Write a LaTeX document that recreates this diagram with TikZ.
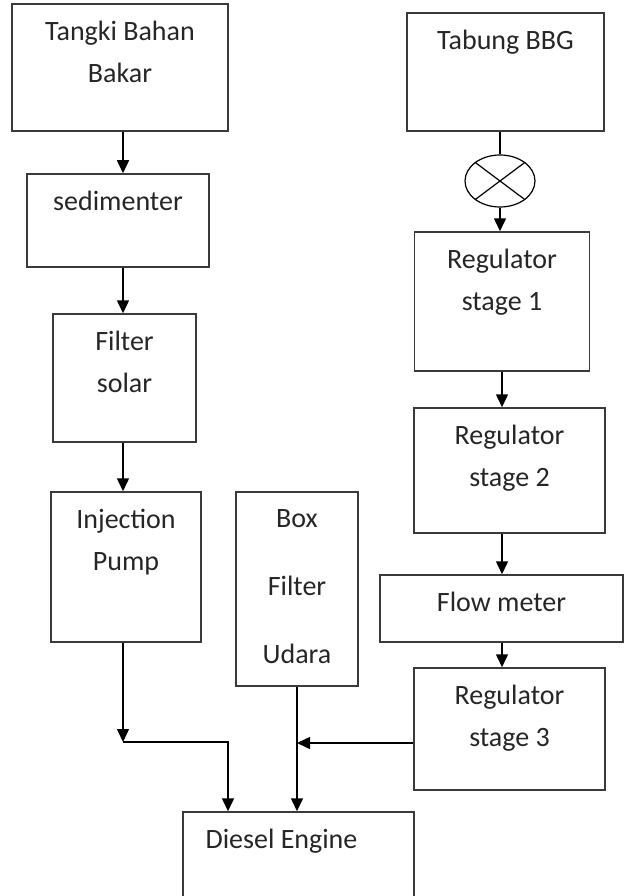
\documentclass[tikz,border=0pt]{standalone}
\usepackage{fontspec}
\setmainfont{Carlito}
\usetikzlibrary{arrows.meta,shapes.geometric}
\definecolor{boxgray}{HTML}{3A3A3A}
\definecolor{txtgray}{HTML}{262626}

\begin{document}
\begin{tikzpicture}[x=1pt, y=-1pt,
        box/.style={draw=boxgray, line width=1.5pt, inner sep=0pt},
        lbl/.style={anchor=north, inner sep=0pt, yshift=-18pt, align=center,
                    text=txtgray, font=\fontsize{28}{42}\selectfont},
        arrow/.style={-{Triangle[length=13pt,width=12pt]}, draw=black, line width=1.5pt}
      ]
        \useasboundingbox (0,0) rectangle (630,896);
        \coordinate (colL) at (123,0);
        \coordinate (colR) at (502,0);
        \coordinate (inL)  at (228,0);

        % solar line
        \node[box, minimum width=216pt, minimum height=127pt,
              label={[lbl]above:{Tangki Bahan\\Bakar}}] (tangki) at (120,67.5) {};
        \node[box, minimum width=182pt, minimum height=93pt,
              label={[lbl]above:{sedimenter}}] (sedim) at (118,220.5) {};
        \node[box, minimum width=143pt, minimum height=128pt,
              label={[lbl]above:{Filter\\solar}}] (filter) at (124.5,378) {};
        \node[box, minimum width=150pt, minimum height=150pt,
              label={[lbl]above:{Injection\\Pump}}] (pump) at (126,567) {};
        \node[box, minimum width=122pt, minimum height=194pt,
              label={[lbl]above:{Box\\[26pt]Filter\\[26pt]Udara}}] (boxf) at (297,589) {};

        % gas line
        \node[box, minimum width=197pt, minimum height=118pt,
              label={[lbl]above:{Tabung BBG}}] (tabung) at (505.5,72) {};
        \node[draw=black, line width=1.2pt, ellipse, minimum width=70pt, minimum height=52pt,
              inner sep=0pt] (valve) at (500,181) {};
        \node[box, minimum width=175pt, minimum height=139pt,
              label={[lbl]above:{Regulator\\stage 1}}] (reg1) at (502,301.5) {};
        \node[box, minimum width=191pt, minimum height=125pt,
              label={[lbl]above:{Regulator\\stage 2}}] (reg2) at (509.5,470.5) {};
        \node[box, minimum width=243pt, minimum height=67pt,
              label={[lbl]above:{Flow meter}}] (flow) at (501.5,608.5) {};
        \node[box, minimum width=191pt, minimum height=122pt,
              label={[lbl]above:{Regulator\\stage 3}}] (reg3) at (509.5,729) {};

        \node[box, minimum width=231pt, minimum height=90pt,
              label={[lbl, xshift=-17pt]above:{Diesel Engine}}] (diesel) at (298.5,857) {};

        \coordinate (jp) at (123,742);
        \coordinate (jb) at (297,743);

        \draw[line width=1.2pt] (valve.north west) -- (valve.south east);
        \draw[line width=1.2pt] (valve.north east) -- (valve.south west);

        \draw[arrow] (tangki.south -| colL) -- (sedim.north -| colL);
        \draw[arrow] (sedim.south -| colL) -- (filter.north -| colL);
        \draw[arrow] (filter.south -| colL) -- (pump.north -| colL);
        \draw[arrow] (pump.south -| colL) -- (jp);
        \draw[arrow] (jp) -| (diesel.north -| inL);
        \draw[arrow] (boxf.south) -- (diesel.north -| boxf.south);
        \draw[arrow] (reg3.west |- jb) -- (jb);

        \draw[line width=1.5pt] (tabung.south -| valve.north) -- (valve.north);
        \draw[arrow] (valve.south) -- (reg1.north -| valve.south);
        \draw[arrow] (reg1.south -| colR) -- (reg2.north -| colR);
        \draw[arrow] (reg2.south -| colR) -- (flow.north -| colR);
        \draw[arrow] (flow.south -| colR) -- (reg3.north -| colR);
      \end{tikzpicture}
\end{document}
